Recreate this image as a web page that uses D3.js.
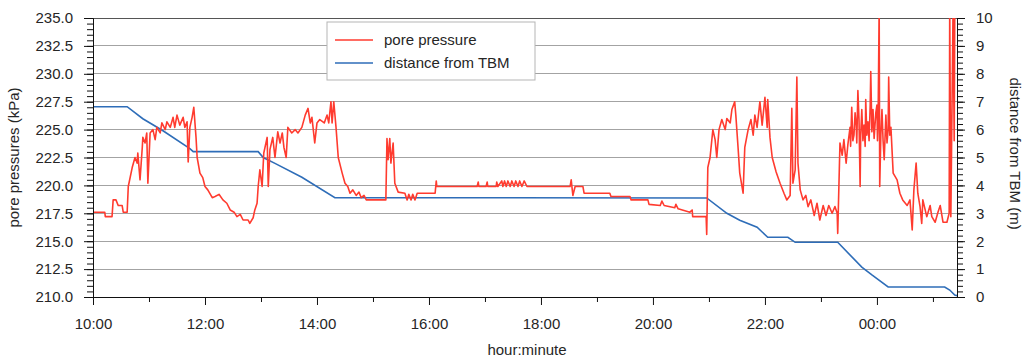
<!DOCTYPE html>
<html>
<head>
<meta charset="utf-8">
<script src="https://cdn.jsdelivr.net/npm/d3@7"></script>
<style>
  body { margin: 0; background: #fff; }
  svg text { font-family: "Liberation Sans", Arial, sans-serif; fill: #262626; }
</style>
</head>
<body>
<svg id="chart" width="1026" height="357"></svg>
<script>
// Tick positions and labels
const timeTicks = [10, 12, 14, 16, 18, 20, 22, 24];
const timeLabels = ['10:00', '12:00', '14:00', '16:00', '18:00', '20:00', '22:00', '00:00'];
const pressureTicks = [210, 212.5, 215, 217.5, 220, 222.5, 225, 227.5, 230, 232.5, 235];
const distanceTicks = [0, 1, 2, 3, 4, 5, 6, 7, 8, 9, 10];
const timeRange = [10, 25.43]; // clock hours, past midnight continues above 24

// distance from TBM (m)
const distTime = [10.00, 10.61, 10.89, 11.25, 11.73, 11.79, 12.95, 13.04, 13.25, 13.73, 14.32,
  20.96, 21.32, 21.55, 21.86, 22.05, 22.41, 22.54, 23.30, 23.73, 23.91, 24.20, 25.21, 25.30, 25.39, 25.43];
const distValue = [6.82, 6.82, 6.39, 5.96, 5.32, 5.21, 5.21, 5.00, 4.79, 4.29, 3.56,
  3.55, 3.00, 2.75, 2.50, 2.14, 2.14, 1.96, 1.96, 1.07, 0.79, 0.36, 0.36, 0.25, 0.07, 0.05];

// pore pressure (kPa)
const porTime = [
  10.00, 10.21, 10.22, 10.34, 10.36, 10.41, 10.45, 10.52, 10.54, 10.61,
  10.63, 10.70, 10.75, 10.79, 10.80, 10.84, 10.88, 10.89, 10.93, 10.96,
  10.98, 11.02, 11.07, 11.11, 11.14, 11.20, 11.23, 11.29, 11.32, 11.38,
  11.43, 11.46, 11.50, 11.55, 11.61, 11.64, 11.68, 11.70, 11.73, 11.77,
  11.80, 11.84, 11.86, 11.91, 11.96, 12.00, 12.05, 12.13, 12.18, 12.25,
  12.32, 12.39, 12.45, 12.52, 12.57, 12.63, 12.68, 12.77, 12.80, 12.86,
  12.89, 12.93, 12.95, 12.98, 13.02, 13.05, 13.11, 13.13, 13.16, 13.21,
  13.25, 13.30, 13.34, 13.38, 13.41, 13.45, 13.48, 13.55, 13.61, 13.66,
  13.73, 13.79, 13.84, 13.88, 13.91, 13.96, 14.00, 14.05, 14.13, 14.18,
  14.21, 14.25, 14.27, 14.30, 14.34, 14.38, 14.45, 14.50, 14.55, 14.59,
  14.64, 14.70, 14.75, 14.79, 14.84, 14.88, 15.04, 15.23, 15.25, 15.27,
  15.30, 15.32, 15.36, 15.39, 15.45, 15.57, 15.61, 15.64, 15.68, 15.71,
  15.75, 15.79, 16.11, 16.13, 16.14, 16.86, 16.88, 16.89, 17.02, 17.04,
  17.05, 17.20, 17.21, 17.23, 17.30, 17.32, 17.35, 17.38, 17.41, 17.45,
  17.48, 17.52, 17.55, 17.59, 17.62, 17.66, 17.70, 17.75, 18.52, 18.54,
  18.57, 18.61, 18.75, 18.77, 19.23, 19.25, 19.59, 19.61, 19.91, 19.93,
  20.13, 20.16, 20.20, 20.39, 20.41, 20.45, 20.66, 20.70, 20.71, 20.95,
  20.96,
  20.98, 21.02, 21.07, 21.11, 21.14, 21.18, 21.23, 21.29, 21.32, 21.38,
  21.41, 21.46, 21.48, 21.52, 21.55, 21.61, 21.64, 21.70, 21.75, 21.79,
  21.82, 21.86, 21.91, 21.95, 22.00, 22.04, 22.05, 22.09, 22.13, 22.20,
  22.27, 22.34, 22.39, 22.45, 22.48, 22.50, 22.54, 22.57, 22.59, 22.63,
  22.68, 22.73, 22.77, 22.82, 22.88, 22.93, 22.98, 23.04, 23.09, 23.14,
  23.20, 23.25, 23.29, 23.30, 23.34, 23.38, 23.41, 23.45, 23.48, 23.52,
  23.53, 23.55, 23.57, 23.59, 23.61, 23.63, 23.64, 23.66, 23.68, 23.70,
  23.71, 23.73, 23.75, 23.77, 23.79, 23.80, 23.82, 23.84, 23.86, 23.88,
  23.89, 23.91, 23.93, 23.95, 23.96, 23.98, 24.00, 24.01, 24.02, 24.04,
  24.05, 24.07, 24.09, 24.11, 24.13, 24.15, 24.16, 24.18, 24.20, 24.21,
  24.23, 24.25, 24.29, 24.36, 24.41, 24.46, 24.54,
  24.59, 24.63, 24.66, 24.70, 24.73, 24.77, 24.80, 24.82, 24.89, 24.95,
  24.98, 25.04, 25.09, 25.13, 25.18, 25.25, 25.29, 25.30, 25.32, 25.36,
  25.38, 25.39, 25.43
];
const porValue = [
  217.6, 217.6, 217.2, 217.2, 218.7, 218.7, 218.2, 218.2, 217.6, 217.6,
  219.9, 221.6, 222.5, 222.0, 222.9, 220.5, 223.4, 224.3, 223.8, 224.7,
  220.2, 224.7, 225.0, 224.1, 225.2, 224.7, 225.6, 225.0, 225.7, 225.2,
  226.1, 225.2, 226.3, 225.4, 226.1, 225.2, 225.7, 222.1, 225.2, 226.1,
  227.0, 224.3, 222.5, 221.1, 220.7, 219.9, 219.6, 218.9, 219.0, 219.2,
  218.7, 218.4, 217.8, 217.6, 217.2, 217.4, 216.9, 216.9, 216.6, 217.1,
  217.8, 218.4, 219.9, 221.4, 219.9, 222.9, 224.3, 219.9, 223.2, 224.3,
  222.5, 224.8, 223.8, 224.7, 223.4, 222.5, 225.2, 224.7, 225.0, 224.7,
  225.2, 226.3, 226.9, 225.6, 226.1, 223.8, 225.6, 225.9, 225.6, 226.3,
  225.6, 227.5, 225.6, 227.5, 225.2, 222.5, 221.1, 220.2, 219.9, 219.3,
  219.6, 219.1, 219.4, 218.9, 219.1, 218.7, 218.7, 218.7, 224.2, 222.3,
  224.2, 222.0, 223.8, 220.2, 219.4, 219.3, 218.7, 219.2, 218.7, 219.2,
  218.7, 219.3, 219.3, 220.4, 219.9, 219.9, 220.3, 219.9, 219.9, 220.3,
  219.9, 219.9, 220.3, 219.9, 220.4, 219.9, 220.4, 219.9, 220.4, 219.9,
  220.4, 219.9, 220.4, 219.9, 220.4, 219.9, 220.4, 219.9, 219.9, 220.5,
  219.1, 219.9, 219.9, 219.3, 219.3, 219.0, 219.0, 218.7, 218.7, 218.3,
  218.2, 218.6, 218.2, 218.0, 218.3, 217.9, 217.6, 217.8, 217.2, 217.2,
  215.6,
  221.6, 222.5, 225.0, 224.1, 222.5, 225.0, 225.9, 225.0, 226.0, 225.6,
  226.8, 227.5, 226.3, 223.4, 221.1, 219.3, 223.4, 225.0, 225.9, 224.5,
  226.3, 225.2, 227.5, 225.4, 227.9, 225.2, 227.7, 224.3, 222.5, 221.2,
  220.2, 219.3, 218.7, 219.1, 226.9, 220.2, 221.4, 229.7, 222.0, 219.6,
  218.7, 219.1, 218.1, 218.7, 217.3, 218.4, 216.9, 218.2, 217.3, 218.2,
  217.5, 218.1, 217.5, 215.7, 223.8, 222.7, 224.1, 222.0, 223.6, 225.2,
  223.5, 227.0, 224.0, 224.5, 226.5, 225.4, 223.8, 228.5, 225.9, 219.9,
  224.5, 226.8, 224.0, 225.4, 223.5, 227.7, 224.5, 225.7, 224.0, 227.2,
  230.2, 224.8, 226.8, 224.2, 225.0, 226.5, 227.2, 224.0, 225.4, 236.0,
  219.9, 224.5, 226.8, 224.0, 222.3, 225.0, 226.3, 223.8, 225.0, 229.7,
  224.5, 225.2, 221.1, 220.5, 219.3, 218.7, 218.2,
  218.7, 216.0, 219.6, 222.0, 219.3, 218.1, 216.6, 218.7, 217.2, 218.2,
  217.2, 216.7, 217.6, 218.2, 216.7, 216.7, 217.5, 236.0, 217.2, 236.0,
  224.0, 236.0, 236.0
];

const colorPressure = '#ff3b2f';
const colorDistance = '#2e6db8';

const margin = { top: 18, right: 69, bottom: 60, left: 93 };
const width = 1026 - margin.left - margin.right;
const height = 357 - margin.top - margin.bottom;

const svg = d3.select('#chart');
const g = svg.append('g').attr('transform', `translate(${margin.left},${margin.top})`);

const x = d3.scaleLinear().domain(timeRange).range([0, width]);
const y = d3.scaleLinear().domain([210, 235]).range([height, 0]);
const y2 = d3.scaleLinear().domain([0, 10]).range([height, 0]);

// horizontal grid
g.append('g')
  .selectAll('line')
  .data(pressureTicks.slice(1))
  .join('line')
  .attr('x1', 0).attr('x2', width)
  .attr('y1', d => y(d)).attr('y2', d => y(d))
  .attr('stroke', (d, i, a) => i === a.length - 1 ? '#555' : '#a3a3a3')
  .attr('stroke-width', 1)
  .attr('shape-rendering', 'crispEdges');

// clip
svg.append('defs').append('clipPath').attr('id', 'plot-clip')
  .append('rect').attr('width', width).attr('height', height + 1);

const plot = g.append('g').attr('clip-path', 'url(#plot-clip)');

const distData = distTime.map((t, i) => [t, distValue[i]]);
const porData = porTime.map((t, i) => [t, porValue[i]]);

plot.append('path')
  .datum(distData)
  .attr('fill', 'none')
  .attr('stroke', colorDistance)
  .attr('stroke-width', 1.6)
  .attr('d', d3.line().x(d => x(d[0])).y(d => y2(d[1])));

plot.append('path')
  .datum(porData)
  .attr('fill', 'none')
  .attr('stroke', colorPressure)
  .attr('stroke-width', 1.6)
  .attr('stroke-linejoin', 'round')
  .attr('d', d3.line().x(d => x(d[0])).y(d => y(d[1])));

// axes
function styleAxis(sel) {
  sel.selectAll('path, line').attr('stroke', '#111');
  sel.selectAll('text').attr('font-size', 15).attr('fill', '#262626')
    .style('font-family', '"Liberation Sans", Arial, sans-serif');
}

// minor ticks first
g.append('g')
  .call(d3.axisLeft(y).tickValues(d3.range(210, 235.01, 0.5)).tickSize(6).tickFormat('').tickSizeOuter(0))
  .call(styleAxis);
g.append('g')
  .call(d3.axisLeft(y).tickValues(pressureTicks).tickSize(9).tickPadding(11)
    .tickFormat(d3.format('.1f')).tickSizeOuter(0))
  .call(styleAxis);

g.append('g').attr('transform', `translate(${width},0)`)
  .call(d3.axisRight(y2).tickValues(d3.range(0, 10.01, 0.2)).tickSize(6).tickFormat('').tickSizeOuter(0))
  .call(styleAxis);
g.append('g').attr('transform', `translate(${width},0)`)
  .call(d3.axisRight(y2).tickValues(distanceTicks).tickSize(8).tickPadding(11).tickSizeOuter(0))
  .call(styleAxis);

g.append('g').attr('transform', `translate(0,${height})`)
  .call(d3.axisBottom(x).tickValues(d3.range(11, 25.5, 2)).tickSize(5).tickFormat('').tickSizeOuter(0))
  .call(styleAxis);
g.append('g').attr('transform', `translate(0,${height})`)
  .call(d3.axisBottom(x).tickValues(timeTicks).tickSize(8).tickPadding(13)
    .tickFormat((d, i) => timeLabels[i]).tickSizeOuter(0))
  .call(styleAxis);

// axis titles
svg.append('text')
  .attr('transform', `translate(19,${margin.top + height / 2}) rotate(-90)`)
  .attr('text-anchor', 'middle')
  .attr('font-size', 15)
  .text('pore pressures (kPa)');

svg.append('text')
  .attr('transform', `translate(1010,${margin.top + height / 2 - 4}) rotate(90)`)
  .attr('text-anchor', 'middle')
  .attr('font-size', 15)
  .text('distance from TBM (m)');

svg.append('text')
  .attr('x', 527).attr('y', 355)
  .attr('text-anchor', 'middle')
  .attr('font-size', 15)
  .text('hour:minute');

// legend
const legend = svg.append('g').attr('transform', 'translate(327,22)');
legend.append('rect')
  .attr('width', 208).attr('height', 58)
  .attr('fill', '#fff').attr('stroke', '#b5b5b5');
const legendItems = [
  { label: 'pore pressure', color: colorPressure },
  { label: 'distance from TBM', color: colorDistance }
];
legendItems.forEach((item, i) => {
  const yy = 18 + i * 23;
  legend.append('line')
    .attr('x1', 8).attr('x2', 46).attr('y1', yy).attr('y2', yy)
    .attr('stroke', item.color).attr('stroke-width', 1.6);
  legend.append('text')
    .attr('x', 57).attr('y', yy + 5)
    .attr('font-size', 15)
    .text(item.label);
});
</script>
</body>
</html>
